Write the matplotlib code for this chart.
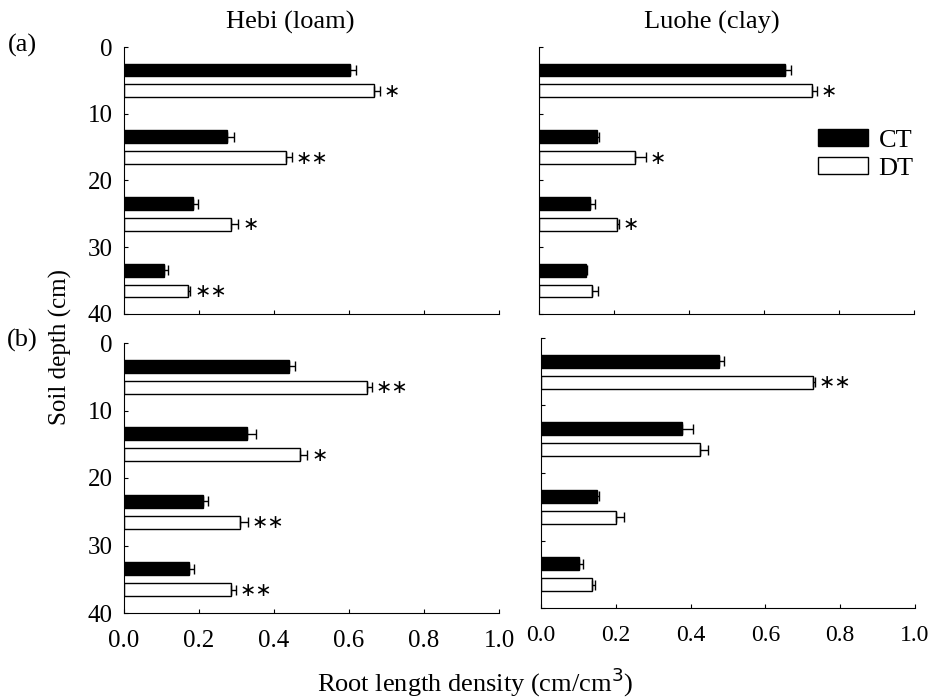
import matplotlib
matplotlib.use("Agg")
import matplotlib.pyplot as plt
from matplotlib.patches import Patch

plt.rcParams["font.family"] = ["Liberation Serif", "DejaVu Serif"]

depth_mid = [5, 15, 25, 35]
depth_ticks = [0, 10, 20, 30, 40]
x_ticks = [0.0, 0.2, 0.4, 0.6, 0.8, 1.0]

# (a) Hebi
hebi_a_ct = [0.603, 0.275, 0.183, 0.107]
hebi_a_ct_err = [0.015, 0.019, 0.013, 0.010]
hebi_a_dt = [0.667, 0.431, 0.285, 0.171]
hebi_a_dt_err = [0.016, 0.017, 0.020, 0.006]
hebi_a_sig = ["*", "**", "*", "**"]

# (a) Luohe
luohe_a_ct = [0.656, 0.154, 0.137, 0.124]
luohe_a_ct_err = [0.015, 0.005, 0.012, 0.005]
luohe_a_dt = [0.728, 0.257, 0.208, 0.142]
luohe_a_dt_err = [0.012, 0.027, 0.005, 0.016]
luohe_a_sig = ["*", "*", "*", ""]

# (b) Hebi
hebi_b_ct = [0.441, 0.329, 0.210, 0.174]
hebi_b_ct_err = [0.014, 0.023, 0.013, 0.013]
hebi_b_dt = [0.647, 0.468, 0.310, 0.285]
hebi_b_dt_err = [0.015, 0.021, 0.020, 0.014]
hebi_b_sig = ["**", "*", "**", "**"]

# (b) Luohe
luohe_b_ct = [0.477, 0.377, 0.150, 0.101]
luohe_b_ct_err = [0.012, 0.030, 0.004, 0.010]
luohe_b_dt = [0.726, 0.426, 0.201, 0.136]
luohe_b_dt_err = [0.007, 0.021, 0.020, 0.008]
luohe_b_sig = ["**", "", "", ""]

fig = plt.figure(figsize=(9.3, 6.97), dpi=100)

axes_pos = [
    [124 / 930, 1 - 314 / 697, 375 / 930, 267 / 697],
    [539 / 930, 1 - 314 / 697, 375 / 930, 267 / 697],
    [124 / 930, 1 - 613 / 697, 375 / 930, 270 / 697],
    [541 / 930, 1 - 608 / 697, 374 / 930, 270 / 697],
]
panels = [
    (hebi_a_ct, hebi_a_ct_err, hebi_a_dt, hebi_a_dt_err, hebi_a_sig),
    (luohe_a_ct, luohe_a_ct_err, luohe_a_dt, luohe_a_dt_err, luohe_a_sig),
    (hebi_b_ct, hebi_b_ct_err, hebi_b_dt, hebi_b_dt_err, hebi_b_sig),
    (luohe_b_ct, luohe_b_ct_err, luohe_b_dt, luohe_b_dt_err, luohe_b_sig),
]

off = 1.55
h = 1.9
for i, (pos, (ct, ct_err, dt, dt_err, sig)) in enumerate(zip(axes_pos, panels)):
    ax = fig.add_axes(pos)
    y_ct = [d - off for d in depth_mid]
    y_dt = [d + off for d in depth_mid]
    ax.barh(y_ct, ct, height=h, color="black", edgecolor="black", linewidth=1)
    ax.barh(y_dt, dt, height=h, color="white", edgecolor="black", linewidth=1)
    ax.errorbar(ct, y_ct, xerr=[[0] * 4, ct_err], fmt="none", ecolor="black",
                elinewidth=1, capsize=3.5)
    ax.errorbar(dt, y_dt, xerr=[[0] * 4, dt_err], fmt="none", ecolor="black",
                elinewidth=1, capsize=3.5)
    for v, e, y, s in zip(dt, dt_err, y_dt, sig):
        if s:
            ax.text(v + e + 0.01, y + 0.1, s.replace("*", "\u2217"), fontsize=14,
                    va="center", ha="left", family=["DejaVu Sans"])
    ax.set_xlim(0, 1.0)
    ax.set_ylim(40, 0)
    ax.set_xticks(x_ticks)
    ax.set_yticks(depth_ticks)
    ax.spines["top"].set_visible(False)
    ax.spines["right"].set_visible(False)
    ax.tick_params(direction="in", length=3, labelsize=18, width=0.8)
    ax.tick_params(axis="x", pad=12)
    ax.tick_params(axis="y", pad=8)
    if i < 2:
        ax.set_xticklabels([])
    else:
        ax.set_xticklabels([f"{t:.1f}" for t in x_ticks])
        if i == 3:
            ax.tick_params(axis="x", labelsize=17)
    if i % 2 == 1:
        ax.set_yticklabels([])
    if i == 1:
        handles = [Patch(facecolor="black", edgecolor="black", label="CT"),
                   Patch(facecolor="white", edgecolor="black", label="DT")]
        ax.legend(handles=handles, loc="upper left", bbox_to_anchor=(0.68, 0.78),
                  frameon=False, fontsize=19, handlelength=1.9, handleheight=0.6,
                  handletextpad=0.4, labelspacing=0.2)

fig.text(290 / 930, 1 - 22 / 697, "Hebi (loam)", fontsize=19, ha="center", va="center")
fig.text(712 / 930, 1 - 22 / 697, "Luohe (clay)", fontsize=19, ha="center", va="center")
fig.text(22 / 930, 1 - 45 / 697, "(a)", fontsize=19, ha="center", va="center")
fig.text(22 / 930, 1 - 340 / 697, "(b)", fontsize=19, ha="center", va="center")
fig.text(60 / 930, 1 - 347 / 697, "Soil depth (cm)", fontsize=18, ha="center",
         va="center", rotation=90)
fig.text(475 / 930, 1 - 682 / 697, "Root length density (cm/cm$^3$)", fontsize=19,
         ha="center", va="center")

fig.savefig("out.png", dpi=100)
